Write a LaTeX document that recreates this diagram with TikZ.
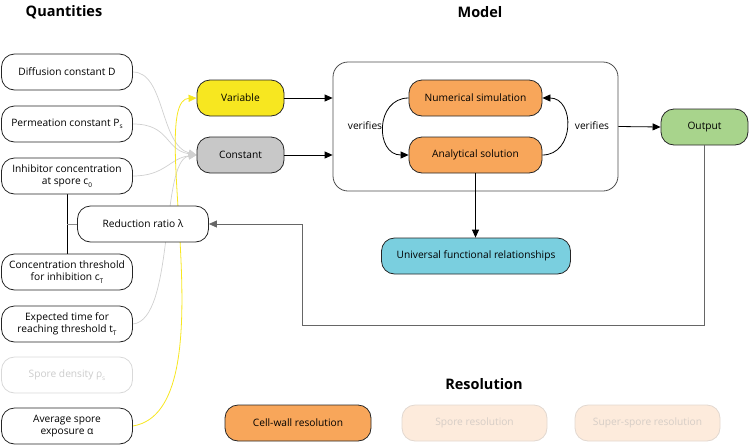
\documentclass[tikz,border=0pt]{standalone}
\usepackage{fontspec}
\setmainfont{Open Sans}
\usetikzlibrary{arrows.meta,backgrounds}
\newcommand{\lsub}[1]{\raisebox{-0.45ex}{\fontsize{6.5}{6.5}\selectfont #1}}
\definecolor{varyel}{HTML}{F7E720}
\definecolor{constgray}{HTML}{C8C8C8}
\definecolor{orng}{HTML}{F8A65A}
\definecolor{outgreen}{HTML}{A8D48C}
\definecolor{ufrcyan}{HTML}{7ACFDF}
\definecolor{fadefill}{HTML}{FDEBDC}
\definecolor{fadeline}{HTML}{E2D8D0}
\definecolor{fadetext}{HTML}{D6CDC6}
\definecolor{lightcurve}{HTML}{D0D0D0}
\definecolor{yelcurve}{HTML}{F7E720}
\begin{document}
\begin{tikzpicture}[x=1pt,y=-1pt,
  every node/.style={font=\fontsize{10.2}{12}\selectfont},
  box/.style={draw=black!85, line width=0.8pt, rounded corners=13pt, minimum width=131pt, minimum height=36pt, inner sep=1pt, align=center, fill=white},
  smallbox/.style={box, minimum width=87pt},
  title/.style={font=\fontsize{14.5}{17}\selectfont\bfseries},
  arr/.style={-{Triangle[length=8pt,width=7pt]}, line width=0.8pt, draw=black},
  garr/.style={-{Triangle[length=8pt,width=7pt]}, line width=0.8pt, draw=black!60},
  larr/.style={-{Triangle[length=8pt,width=7pt]}, line width=0.7pt, draw=lightcurve},
  yarr/.style={-{Triangle[length=8pt,width=7pt]}, line width=0.8pt, draw=yelcurve}
]
\useasboundingbox (0,0) rectangle (750,445);
% titles
\node[title] (tq) at (64,12) {Quantities};
\node[title] (tm) at (480,12) {Model};
\node[title] (tr) at (484,384) {Resolution};
% quantities
\node[box] (diff) at (67,72) {Diffusion constant D};
\node[box] (perm) at (67,124) {Permeation constant P\lsub{s}};
\node[box] (inh) at (67,176) {Inhibitor concentration\\at spore c\lsub{0}};
\node[box] (rr) at (143,224) {Reduction ratio λ};
\node[box] (conc) at (67,272) {Concentration threshold\\for inhibition c\lsub{T}};
\node[box] (time) at (67,324) {Expected time for\\reaching threshold t\lsub{T}};
\node[box, draw=black!15, text=black!20] (dens) at (67,375) {Spore density ρ\lsub{s}};
\node[box] (alpha) at (67,426) {Average spore\\exposure α};
% model
\node[smallbox, fill=varyel] (var) at (240.5,98) {Variable};
\node[smallbox, fill=constgray] (const) at (240.5,155) {Constant};
\node[draw=black!70, line width=0.8pt, rounded corners=15pt, minimum width=285pt, minimum height=129pt] (model) at (475.5,126.5) {};
\node[box, fill=orng, minimum width=133pt] (num) at (475.5,98) {Numerical simulation};
\node[box, fill=orng, minimum width=133pt] (ana) at (475.5,155) {Analytical solution};
\node (v1) at (365,126) {verifies};
\node (v2) at (592,126) {verifies};
\node[smallbox, fill=outgreen] (out) at (704.5,127) {Output};
\node[box, fill=ufrcyan, minimum width=189pt] (ufr) at (476,256) {Universal functional relationships};
% resolution
\node[box, fill=orng, minimum width=146pt] (cw) at (298,423) {Cell-wall resolution};
\node[box, fill=fadefill, draw=fadeline, text=fadetext, minimum width=145pt] (sr) at (474.5,423) {Spore resolution};
\node[box, fill=fadefill, draw=fadeline, text=fadetext, minimum width=145pt] (ssr) at (647.5,423) {Super-spore resolution};
% connectors
\begin{pgfonlayer}{background}
\draw[larr] (diff.east) .. controls (165,72) and (160,145) .. (const.west);
\draw[larr] (perm.east) .. controls (170,124) and (165,150) .. (const.west);
\draw[larr] (inh.east) .. controls (165,176) and (170,158) .. (const.west);
\draw[larr] (time.east) .. controls (175,320) and (160,160) .. (const.west);
\draw[yarr] (alpha.east) .. controls (230,410) and (145,100) .. (var.west);
\draw[line width=0.8pt, black] (inh.south) -- (conc.north);
\draw[line width=0.8pt, black!45] (inh.south |- rr.west) -- (rr.west);
\end{pgfonlayer}
\draw[arr] (var.east) -- (var.east -| model.west);
\draw[arr] (const.east) -- (const.east -| model.west);
\draw[arr] (num.west) .. controls (375,98) and (375,155) .. (ana.west);
\draw[arr] (ana.east) .. controls (575,155) and (575,98) .. (num.east);
\draw[arr] (model.east) -- (out.west);
\draw[arr] (ana.south) -- (ana.south |- ufr.north);
\draw[garr] (out.south) |- (302,325) |- (rr.east);
\end{tikzpicture}
\end{document}
